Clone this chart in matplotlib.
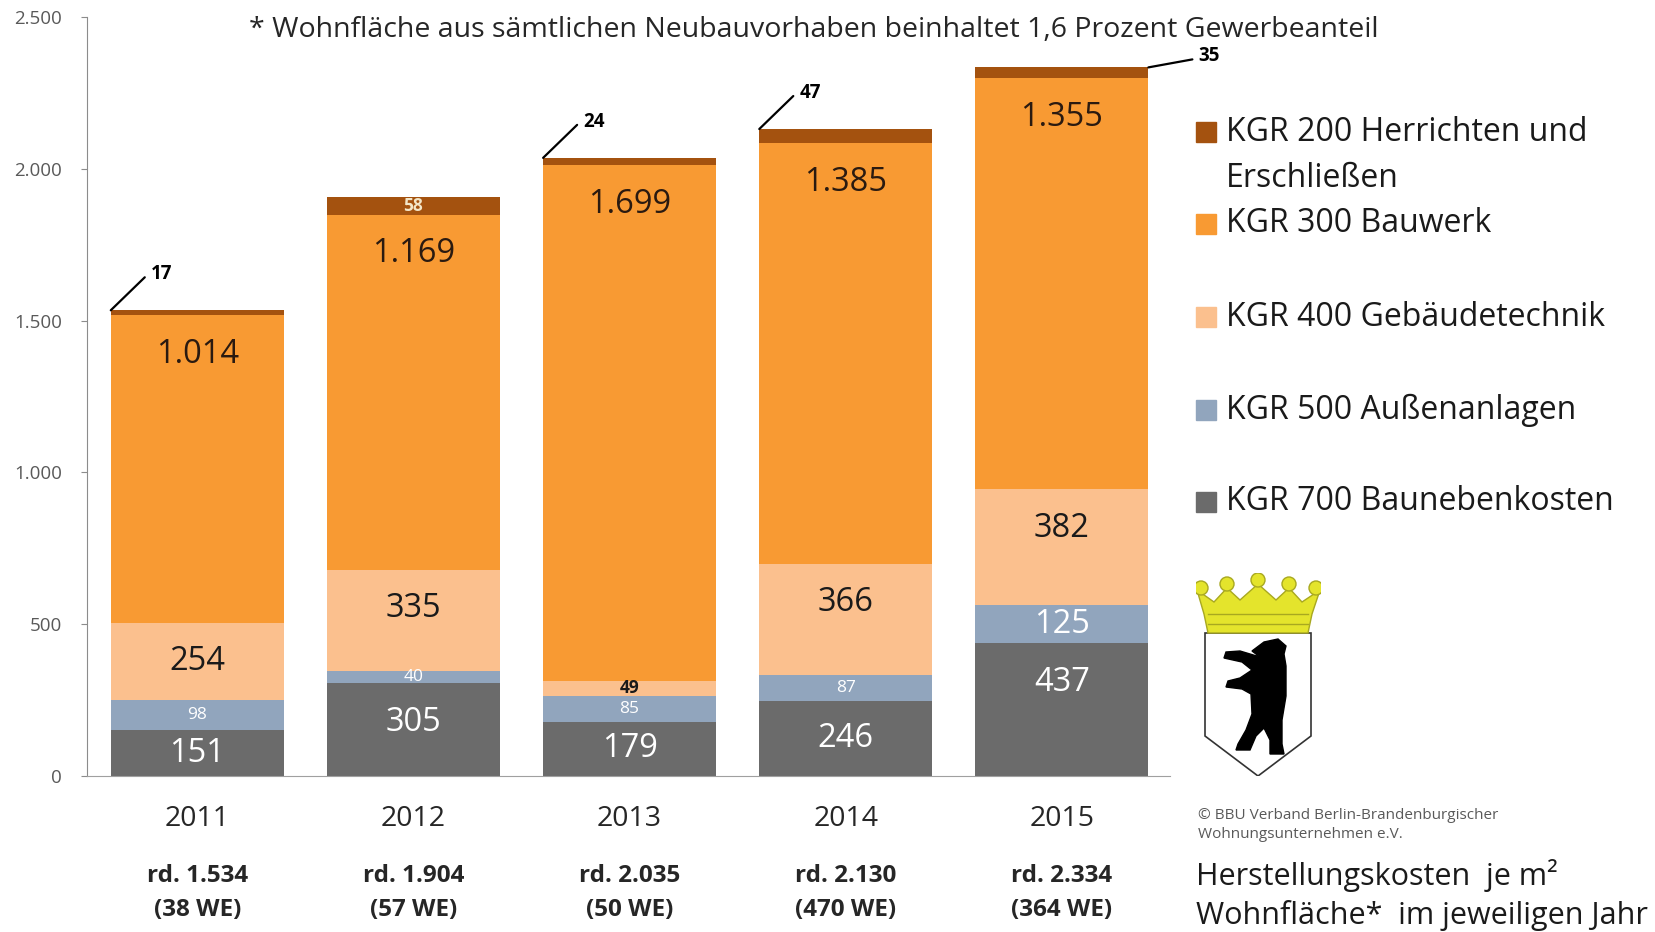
import numpy as np
import matplotlib
matplotlib.use("Agg")
import matplotlib.pyplot as plt
from matplotlib.patches import Polygon, Rectangle, Circle

plt.rcParams['font.family'] = ['Open Sans', 'DejaVu Sans']

# data
years = ['2011', '2012', '2013', '2014', '2015']
kgr700 = [151, 305, 179, 246, 437]
kgr500 = [98, 40, 85, 87, 125]
kgr400 = [254, 335, 49, 366, 382]
kgr300 = [1014, 1169, 1699, 1385, 1355]
kgr200 = [17, 58, 24, 47, 35]
totals = ['rd. 1.534', 'rd. 1.904', 'rd. 2.035', 'rd. 2.130', 'rd. 2.334']
units = ['(38 WE)', '(57 WE)', '(50 WE)', '(470 WE)', '(364 WE)']

series_labels = ['KGR 200 Herrichten und\nErschließen', 'KGR 300 Bauwerk',
                 'KGR 400 Gebäudetechnik', 'KGR 500 Außenanlagen',
                 'KGR 700 Baunebenkosten']

title = '* Wohnfläche aus sämtlichen Neubauvorhaben beinhaltet 1,6 Prozent Gewerbeanteil'
source = '© BBU Verband Berlin-Brandenburgischer\nWohnungsunternehmen e.V.'
caption = 'Herstellungskosten  je m²\nWohnfläche*  im jeweiligen Jahr'

W, H = 1655, 932


def fx(px):
    return px / W


def fy(py):
    return 1 - py / H


def de(v):
    return f"{v:,}".replace(',', '.')


fig = plt.figure(figsize=(W / 100, H / 100), dpi=100)
ax = fig.add_axes([fx(87), fy(776), fx(1170 - 87), (776 - 17) / H])

x = np.arange(len(years))
bw = 0.8
# stacked from bottom: 700, 500, 400, 300, 200
stack = [kgr700, kgr500, kgr400, kgr300, kgr200]
colors = ['#6b6b6b', '#91a5bd', '#fbc08e', '#f89a33', '#a4520f']
txt_colors = ['white', 'white', '#1a1a1a', '#2a1a10', '#f3e6c8']
small_bold = [False, False, True, False, True]

px_per_unit = 759 / 2500
bottom = np.zeros(len(years))
for si, vals in enumerate(stack):
    vals = np.array(vals, dtype=float)
    ax.bar(x, vals, bw, bottom=bottom, color=colors[si], edgecolor='none', zorder=2)
    for i, v in enumerate(vals):
        top = bottom[i] + v
        if si == 4 and v < 50:
            # leader line for tiny top segments
            if i == len(years) - 1:
                xy = (x[i] + bw / 2, top)
                dx, dy = 44, 8
            else:
                xy = (x[i] - bw / 2, top)
                dx, dy = 34, 33
            ax.annotate('', xy=xy, xytext=(dx, dy), textcoords='offset pixels',
                        arrowprops=dict(arrowstyle='-', color='black', lw=1.6,
                                        shrinkA=0, shrinkB=0))
            ax.annotate(de(int(v)), xy=xy, xytext=(dx + 6, dy + 3),
                        textcoords='offset pixels', ha='left', va='center',
                        fontsize=13.5, fontweight='bold', color='black')
            continue
        hpx = v * px_per_unit
        if v >= 110:
            off = min(39, hpx / 2)
            ax.annotate(de(int(v)), xy=(x[i], top), xytext=(0, -off),
                        textcoords='offset pixels', ha='center', va='center',
                        fontsize=23.5, color=txt_colors[si], zorder=3)
        else:
            ax.text(x[i], bottom[i] + v / 2, de(int(v)), ha='center', va='center',
                    fontsize=12.5, color=txt_colors[si],
                    fontweight='bold' if small_bold[si] else 'normal', zorder=3)
    bottom += vals

ax.set_xlim(-0.51, 4.5)
ax.set_ylim(0, 2500)
ax.set_yticks(np.arange(0, 2501, 500))
ax.set_yticklabels([de(int(t)) for t in np.arange(0, 2501, 500)])
ax.tick_params(axis='y', length=4, color='#8c8c8c', labelsize=13.5,
               labelcolor='#595959', pad=14)
ax.set_xticks([])
for s in ['top', 'right']:
    ax.spines[s].set_visible(False)
ax.spines['left'].set_color('#8c8c8c')
ax.spines['bottom'].set_color('#a0a0a0')

for i in range(len(years)):
    ax.annotate(years[i], xy=(x[i], 0), xycoords=('data', 'axes fraction'),
                xytext=(0, -43), textcoords='offset pixels', ha='center', va='center',
                fontsize=20.5, color='#262626')
    ax.annotate(totals[i], xy=(x[i], 0), xycoords=('data', 'axes fraction'),
                xytext=(0, -100), textcoords='offset pixels', ha='center', va='center',
                fontsize=17.5, fontweight='bold', color='#262626')
    ax.annotate(units[i], xy=(x[i], 0), xycoords=('data', 'axes fraction'),
                xytext=(0, -134), textcoords='offset pixels', ha='center', va='center',
                fontsize=17.5, fontweight='bold', color='#262626')

fig.text(fx(814), fy(30), title, ha='center', va='center', fontsize=20.5, color='#262626')

# legend, top to bottom
leg_y = [155.5, 224, 317, 410, 502]
leg_sq = [132, 224, 317, 410, 502]
leg_colors = colors[::-1]
for lab, ty, sy, c in zip(series_labels, leg_y, leg_sq, leg_colors):
    fig.patches.append(Rectangle((fx(1196), fy(sy + 10)), 20 / W, 20 / H,
                                 transform=fig.transFigure, color=c))
    fig.text(fx(1226), fy(ty), lab, ha='left', va='center', fontsize=23,
             color='#1a1a1a', linespacing=1.5)

fig.text(fx(1198), fy(825), source, ha='left', va='center', fontsize=11,
         color='#595959', linespacing=1.3)
fig.text(fx(1196), fy(895), caption, ha='left', va='center', fontsize=22,
         color='#1a1a1a', linespacing=1.33)

# Berlin coat of arms, drawn roughly
cax = fig.add_axes([fx(1196), fy(776), 125 / W, 203 / H])
cax.set_xlim(0, 125)
cax.set_ylim(0, 203)
cax.axis('off')
shield = [(9, 143), (115, 143), (115, 40), (62, 0), (9, 40)]
cax.add_patch(Polygon(shield, closed=True, facecolor='white', edgecolor='#333333', lw=1.2))
crown = [(12, 143), (112, 143), (116, 162), (124, 186), (106, 174), (93, 188),
         (80, 176), (62, 192), (44, 176), (31, 188), (18, 174), (1, 186), (8, 162)]
cax.add_patch(Polygon(crown, closed=True, facecolor='#e4e42c', edgecolor='#a8a820', lw=1))
for cx, cy in [(5, 188), (31, 192), (62, 196), (93, 192), (120, 188)]:
    cax.add_patch(Circle((cx, cy), 7, facecolor='#e4e42c', edgecolor='#a8a820', lw=1))
for yy in [152, 162]:
    cax.plot([12, 112], [yy, yy], color='#a8a820', lw=1)
bear = [(56, 125), (64, 119), (44, 125), (30, 124), (28, 118), (46, 114), (56, 106),
        (44, 98), (32, 95), (30, 89), (46, 87), (55, 82), (56, 62), (50, 46),
        (42, 32), (40, 26), (54, 26), (60, 40), (68, 48), (74, 36), (74, 22),
        (88, 22), (86, 32), (86, 56), (90, 80), (90, 110), (88, 122), (90, 130),
        (82, 137), (68, 134)]
cax.add_patch(Polygon(bear, closed=True, facecolor='black', edgecolor='black'))

fig.savefig('out.png', dpi=100)
